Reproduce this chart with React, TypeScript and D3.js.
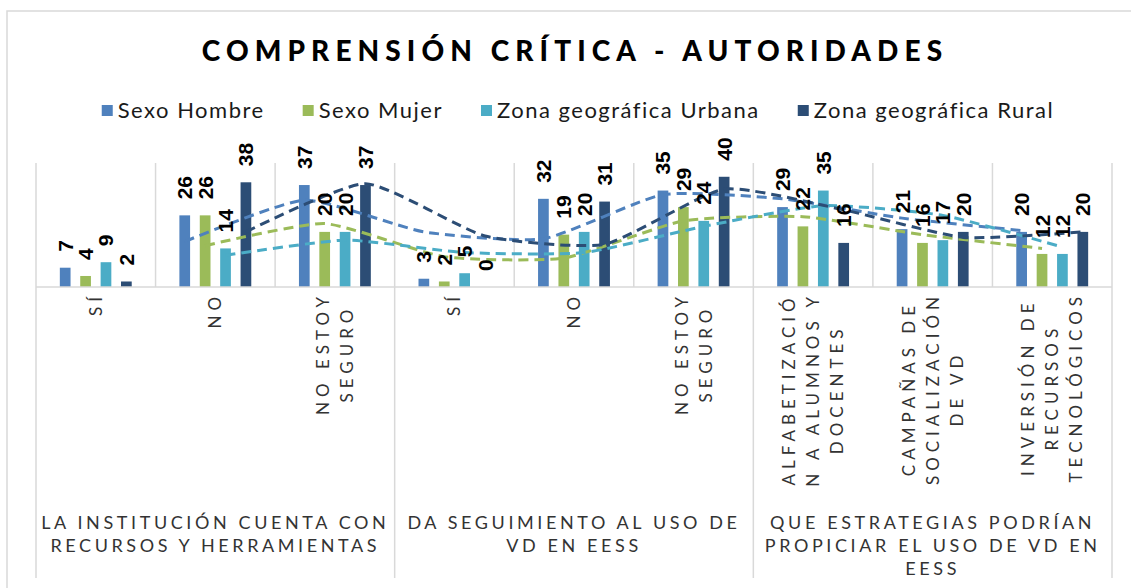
import { useEffect, useRef } from "react";
import * as d3 from "d3";

// category labels (already wrapped as in the original chart)
const categoryLabels = [
  ["SÍ"],
  ["NO"],
  ["NO ESTOY", "SEGURO"],
  ["SÍ"],
  ["NO"],
  ["NO ESTOY", "SEGURO"],
  ["ALFABETIZACIÓ", "N A ALUMNOS Y", "DOCENTES"],
  ["CAMPAÑAS DE", "SOCIALIZACIÓN", "DE VD"],
  ["INVERSIÓN DE", "RECURSOS", "TECNOLÓGICOS"],
];
const categoryGroup = [0, 0, 0, 1, 1, 1, 2, 2, 2];
const groupLabels = [
  ["LA INSTITUCIÓN CUENTA CON", "RECURSOS Y HERRAMIENTAS"],
  ["DA SEGUIMIENTO AL USO DE", "VD EN EESS"],
  ["QUE ESTRATEGIAS PODRÍAN", "PROPICIAR EL USO DE VD EN", "EESS"],
];

const sexoHombre = [7, 26, 37, 3, 32, 35, 29, 21, 20];
const sexoMujer = [4, 26, 20, 2, 19, 29, 22, 16, 12];
const zonaUrbana = [9, 14, 20, 5, 20, 24, 35, 17, 12];
const zonaRural = [2, 38, 37, 0, 31, 40, 16, 20, 20];

const seriesNames = ["Sexo Hombre", "Sexo Mujer", "Zona geográfica Urbana", "Zona geográfica Rural"];
const seriesColors = ["#4f81bd", "#9bbb59", "#4bacc6", "#2c4d75"];
const seriesValues = [sexoHombre, sexoMujer, zonaUrbana, zonaRural];

const title = "COMPRENSIÓN CRÍTICA - AUTORIDADES";

export default function App() {
  const svgRef = useRef<SVGSVGElement | null>(null);

  useEffect(() => {
    const el = svgRef.current;
    if (!el) return;
    const W = 1131;
    const H = 588;
    const left = 36;
    const right = 1112;
    const top = 163;
    const axisY = 287;
    const bottomLine = 578;

    const svg = d3.select(el);
    svg.selectAll("*").remove();
    svg.attr("width", W).attr("height", H);

    // chart frame
    svg
      .append("rect")
      .attr("x", 7)
      .attr("y", 11)
      .attr("width", W)
      .attr("height", H)
      .attr("fill", "#fff")
      .attr("stroke", "#d9d9d9")
      .attr("stroke-width", 1.5);

    const cats = d3.range(categoryLabels.length);
    const x0 = d3.scaleBand<number>().domain(cats).range([left, right]);
    const x1 = d3
      .scaleBand<number>()
      .domain(d3.range(seriesNames.length))
      .range([0, x0.bandwidth()])
      .paddingInner(0.475)
      .paddingOuter(1.169);
    const y = d3.scaleLinear().domain([0, 45]).range([axisY, top]);

    // title
    svg
      .append("text")
      .attr("x", 575)
      .attr("y", 61)
      .attr("text-anchor", "middle")
      .attr("font-family", "Lato, 'Open Sans', sans-serif")
      .attr("font-weight", 900)
      .attr("font-size", 28)
      .attr("letter-spacing", 6.1)
      .attr("fill", "#000")
      .text(title);

    // legend
    const legend = svg.append("g");
    let lx = 0;
    seriesNames.forEach((name, i) => {
      const g = legend.append("g").attr("transform", `translate(${lx},0)`);
      g.append("rect")
        .attr("x", 0)
        .attr("y", 105)
        .attr("width", 11)
        .attr("height", 11)
        .attr("fill", seriesColors[i]);
      const t = g
        .append("text")
        .attr("x", 16)
        .attr("y", 118)
        .attr("font-family", "Lato, sans-serif")
        .attr("font-size", 22)
        .attr("letter-spacing", 1.5)
        .attr("fill", "#1a1a1a")
        .text(name);
      const w = (t.node() as SVGTextElement).getBBox().width;
      lx += 16 + w + 38;
    });
    const legendW = lx - 38;
    legend.attr("transform", `translate(${578 - legendW / 2},0)`);

    // vertical gridlines at category boundaries
    const bounds = cats.map((c) => x0(c) as number).concat([right]);
    svg
      .append("g")
      .selectAll("line")
      .data(bounds)
      .join("line")
      .attr("x1", (d) => d)
      .attr("x2", (d) => d)
      .attr("y1", top)
      .attr("y2", axisY)
      .attr("stroke", "#d9d9d9")
      .attr("stroke-width", 1.5);

    // group separators below the axis
    const groupStarts = cats.filter((c, i) => i === 0 || categoryGroup[i] !== categoryGroup[i - 1]);
    const sepX = groupStarts.map((c) => x0(c) as number).concat([right]);
    svg
      .append("g")
      .selectAll("line")
      .data(sepX)
      .join("line")
      .attr("x1", (d) => d)
      .attr("x2", (d) => d)
      .attr("y1", axisY)
      .attr("y2", bottomLine)
      .attr("stroke", "#d9d9d9")
      .attr("stroke-width", 1.5);

    // bars
    seriesValues.forEach((vals, s) => {
      svg
        .append("g")
        .selectAll("rect")
        .data(vals)
        .join("rect")
        .attr("x", (d, i) => (x0(i) as number) + (x1(s) as number))
        .attr("y", (d) => y(d))
        .attr("width", x1.bandwidth())
        .attr("height", (d) => axisY - y(d))
        .attr("fill", seriesColors[s]);
    });

    // axis line
    svg
      .append("line")
      .attr("x1", left)
      .attr("x2", right)
      .attr("y1", axisY)
      .attr("y2", axisY)
      .attr("stroke", "#d9d9d9")
      .attr("stroke-width", 1.5);

    // moving average (period 2) trendlines
    const line = d3
      .line<[number, number]>()
      .x((d) => d[0])
      .y((d) => d[1])
      .curve(d3.curveCardinal.tension(0.45));
    seriesValues.forEach((vals, s) => {
      const pts: [number, number][] = vals.slice(1).map((v, k) => {
        const i = k + 1;
        const cx = (x0(i) as number) + (x1(s) as number) + x1.bandwidth() / 2;
        return [cx, y((vals[i - 1] + v) / 2)];
      });
      svg
        .append("path")
        .attr("d", line(pts))
        .attr("fill", "none")
        .attr("stroke", seriesColors[s])
        .attr("stroke-width", 3)
        .attr("stroke-dasharray", "10,6");
    });

    // value labels
    seriesValues.forEach((vals, s) => {
      svg
        .append("g")
        .selectAll("text")
        .data(vals)
        .join("text")
        .attr("transform", (d, i) => {
          const cx = (x0(i) as number) + (x1(s) as number) + x1.bandwidth() / 2;
          return `translate(${cx + 7.5},${y(d) - 16}) rotate(-90)`;
        })
        .attr("font-family", "'Liberation Sans', Arial, sans-serif")
        .attr("font-weight", 700)
        .attr("font-size", 21)
        .attr("fill", "#000")
        .text((d) => d);
    });

    // rotated category labels
    const ls = 5;
    categoryLabels.forEach((lines, i) => {
      const cx = (x0(i) as number) + x0.bandwidth() / 2;
      const g = svg.append("g");
      const texts = lines.map((ln) =>
        g
          .append("text")
          .attr("font-family", "Lato, sans-serif")
          .attr("font-size", 17)
          .attr("letter-spacing", ls)
          .attr("fill", "#333")
          .attr("text-anchor", "start")
          .text(ln)
      );
      const lens = texts.map((t) => (t.node() as SVGTextElement).getBBox().width - ls);
      const maxLen = d3.max(lens) || 0;
      texts.forEach((t, k) => {
        const lx2 = cx + (k - (lines.length - 1) / 2) * 24 + 6;
        const startY = axisY + 10 + maxLen - (maxLen - lens[k]) / 2;
        t.attr("transform", `translate(${lx2},${startY}) rotate(-90)`);
      });
    });

    // group labels
    groupLabels.forEach((lines, gi) => {
      const gx = (sepX[gi] + sepX[gi + 1]) / 2;
      lines.forEach((ln, k) => {
        svg
          .append("text")
          .attr("x", gx)
          .attr("y", 529 + k * 23)
          .attr("text-anchor", "middle")
          .attr("font-family", "Lato, sans-serif")
          .attr("font-size", 18)
          .attr("letter-spacing", 3.6)
          .attr("fill", "#333")
          .text(ln);
      });
    });
  }, []);

  return (
    <svg
      ref={svgRef}
      style={{ position: "absolute", left: 0, top: 0, display: "block" }}
      width={1131}
      height={588}
    />
  );
}
